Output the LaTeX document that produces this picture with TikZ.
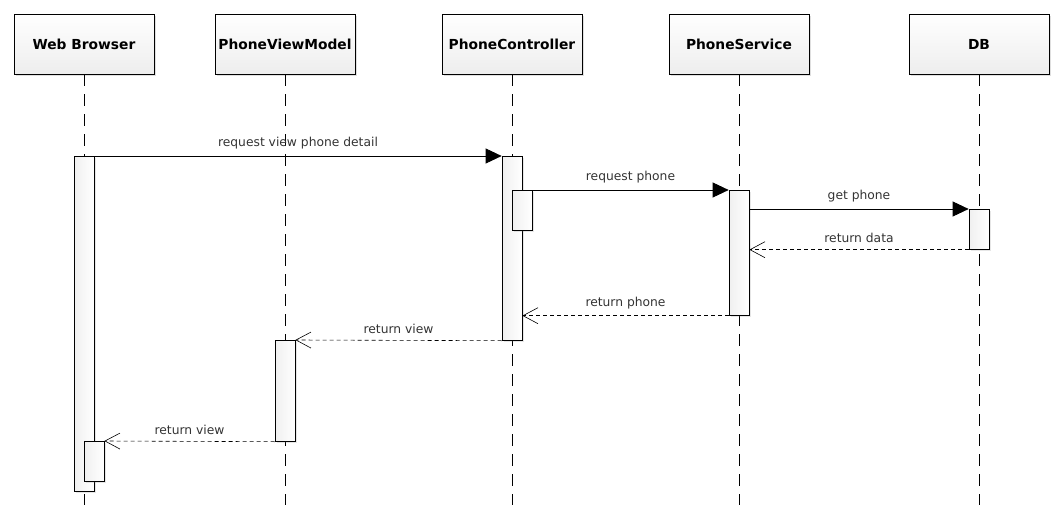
\documentclass[tikz,border=0pt]{standalone}
\usepackage{fontspec}
\setmainfont{DejaVu Sans}
\usetikzlibrary{arrows.meta,shadows}

\begin{document}
\begin{tikzpicture}[x=1pt,y=-1pt]
	\tikzset{
		actor/.style={draw, line width=0.7pt, minimum width=140pt, minimum height=60pt, inner sep=0pt,
			top color=white, bottom color=gray!14,
			drop shadow={shadow xshift=2pt, shadow yshift=-2pt, opacity=0.25},
			font=\fontsize{13.8}{16}\selectfont\bfseries},
		activation/.style={draw, line width=0.7pt, minimum width=20pt, anchor=north, inner sep=0pt,
			left color=gray!12, right color=white,
			drop shadow={shadow xshift=2pt, shadow yshift=-2pt, opacity=0.2}},
		lifeline/.style={line width=0.6pt, dash pattern=on 12pt off 8pt},
		call/.style={line width=0.7pt, -{Triangle[length=16pt,width=15pt]}},
		reply/.style={line width=0.6pt, dash pattern=on 4pt off 3pt, -{Straight Barb[length=15pt,width=16pt,line width=0.6pt]}},
		msg/.style={midway, above=3.5pt, text=black!80, font=\fontsize{12.3}{14}\selectfont}
	}
	\useasboundingbox (0,0) rectangle (1064,529);
	% participants
	\node[actor] (wb) at (84,44) {Web Browser};
	\node[actor] (pvm) at (285,44) {PhoneViewModel};
	\node[actor] (pc) at (512,44) {PhoneController};
	\node[actor] (ps) at (739,44) {PhoneService};
	\node[actor] (db) at (979,44) {DB};
	% lifelines
	\foreach \p in {wb,pvm,pc,ps,db}
		\draw[lifeline] (\p.south) -- (\p.south |- 0,505) coordinate (\p end);
	% activations
	\node[activation, minimum height=335pt] (wbA) at (84,156) {};
	\node[activation, minimum height=40pt] (wbB) at (94,441) {};
	\node[activation, minimum height=184pt] (pcA) at (512,156) {};
	\node[activation, minimum height=40pt] (pcB) at (522,190) {};
	\node[activation, minimum height=125pt] (psA) at (739,190) {};
	\node[activation, minimum height=40pt] (dbA) at (979,209) {};
	\node[activation, minimum height=101pt] (pvmA) at (285,340) {};
	% messages
	\draw[call] (wbA.north east) -- (pcA.north west) node[msg] {request view phone detail};
	\draw[call] (pcB.north east) -- (psA.north west) node[msg] {request phone};
	\draw[call] (dbA.north west -| psA.east) -- (dbA.north west) node[msg] {get phone};
	\draw[reply] (dbA.south west) -- (dbA.south west -| psA.east) node[msg] {return data};
	\draw[reply] (psA.south west) -- (psA.south west -| pcA.east) node[msg] {return phone};
	\draw[reply] (pcA.south west) -- (pvmA.north east) node[msg] {return view};
	\draw[reply] (pvmA.south west) -- (wbB.north east) node[msg] {return view};
\end{tikzpicture}
\end{document}
